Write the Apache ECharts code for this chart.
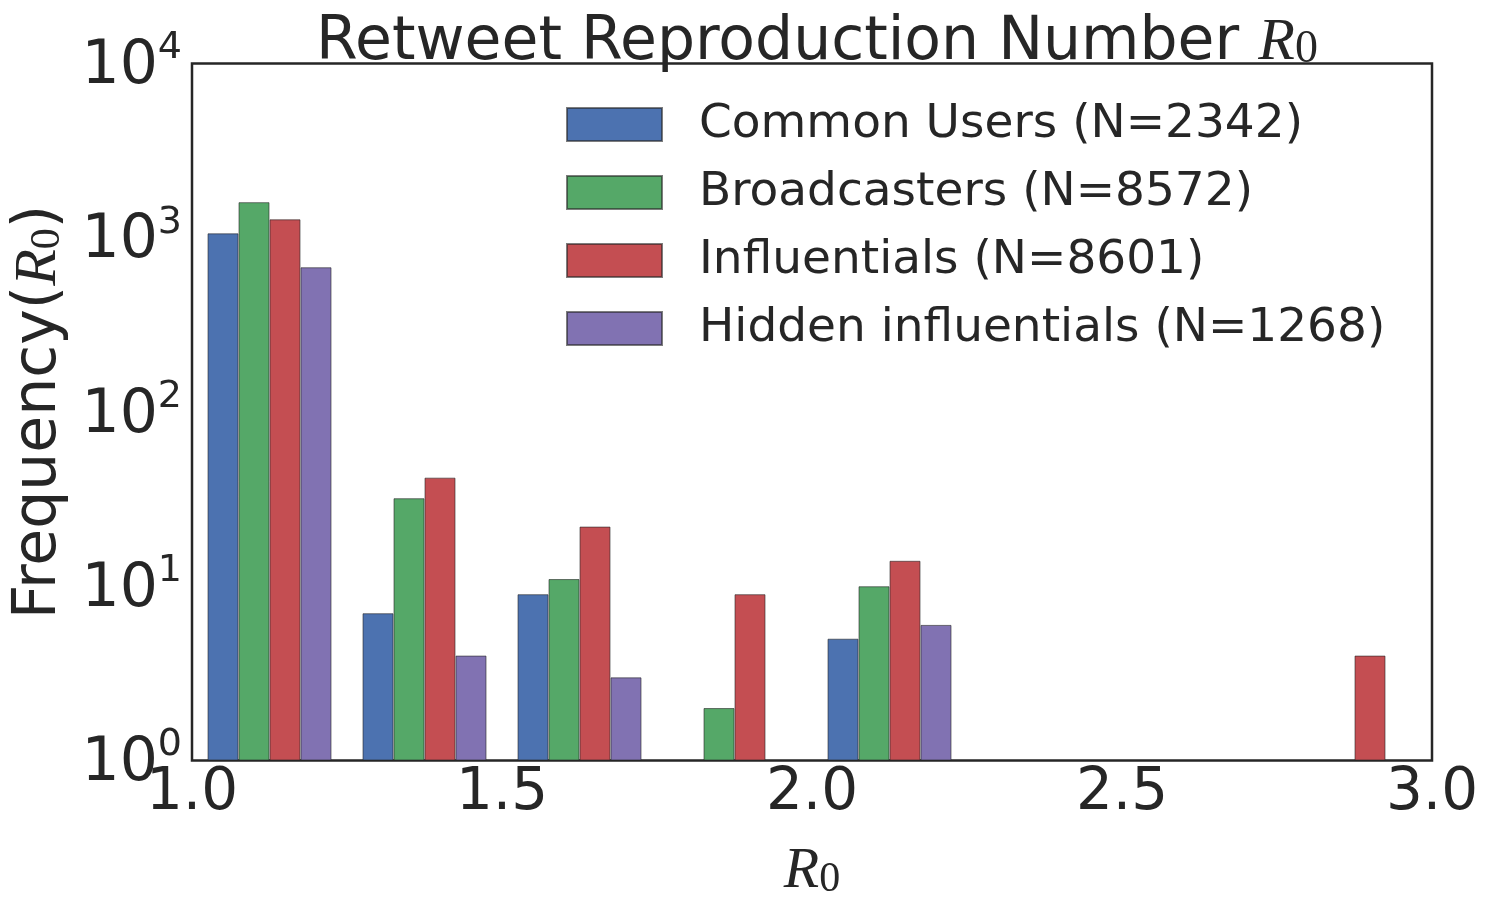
<!DOCTYPE html>
<html>
<head>
<meta charset="utf-8">
<script src="https://cdn.jsdelivr.net/npm/echarts@6/dist/echarts.min.js"></script>
<style>
  html, body { margin: 0; padding: 0; background: #fff; }
  #chart { width: 1488px; height: 902px; }
</style>
</head>
<body>
<div id="chart"></div>
<script>
// histogram bins (R0 ranges) and counts per user group
var bins = ['1.00-1.25', '1.25-1.50', '1.50-1.75', '1.75-2.00', '2.00-2.25', '2.25-2.50', '2.50-2.75', '2.75-3.00'];
var commonUsers = [1060, 7, 9, '-', 5, '-', '-', '-'];
var broadcasters = [1600, 32, 11, 2, 10, '-', '-', '-'];
var influentials = [1276, 42, 22, 9, 14, '-', '-', 4];
var hiddenInfluentials = [677, 4, 3, '-', 6, '-', '-', '-'];
var seriesNames = ['Common Users (N=2342)', 'Broadcasters (N=8572)', 'Influentials (N=8601)', 'Hidden influentials (N=1268)'];
var colors = ['#4c72b0', '#55a868', '#c44e52', '#8172b2'];

var textColor = '#262626';
var sans = 'DejaVu Sans';
var serif = 'Liberation Serif';

var chart = echarts.init(document.getElementById('chart'));

function barSeries(name, data, color) {
  return {
    name: name,
    type: 'bar',
    xAxisIndex: 0,
    data: data,
    barGap: '0%',
    barCategoryGap: '20%',
    itemStyle: {
      color: color,
      borderColor: 'rgba(38,38,38,0.6)',
      borderWidth: 1
    }
  };
}

var option = {
  animation: false,
  color: colors,
  textStyle: { fontFamily: sans, color: textColor },
  title: {
    text: '{a|Retweet Reproduction Number }{r|R}{s|0}',
    left: 812,
    textAlign: 'center',
    top: -8,
    textStyle: {
      fontWeight: 'normal',
      rich: {
        a: { fontFamily: sans, fontWeight: 'normal', fontSize: 60, color: textColor, verticalAlign: 'bottom' },
        r: { fontFamily: serif, fontWeight: 'normal', fontStyle: 'italic', fontSize: 60, color: textColor, verticalAlign: 'bottom' },
        s: { fontFamily: serif, fontWeight: 'normal', fontSize: 46, color: textColor, verticalAlign: 'bottom', padding: [30, 0, 0, 0] }
      }
    }
  },
  legend: {
    orient: 'vertical',
    left: 561,
    top: 96,
    itemWidth: 95,
    itemHeight: 33,
    itemGap: 21,
    icon: 'rect',
    data: seriesNames,
    textStyle: {
      fontFamily: sans,
      fontSize: 47,
      color: textColor,
      padding: [0, 0, 0, 32]
    }
  },
  grid: {
    left: 192,
    right: 56,
    top: 63.5,
    bottom: 141.5,
    containLabel: false,
    outerBoundsMode: 'none',
    show: true,
    borderColor: textColor,
    borderWidth: 2.5,
    backgroundColor: '#fff'
  },
  xAxis: [
    {
      type: 'category',
      data: bins,
      show: false
    },
    {
      type: 'value',
      position: 'bottom',
      min: 1,
      max: 3,
      interval: 0.5,
      axisLine: { show: false },
      axisTick: { show: false },
      splitLine: { show: false },
      axisLabel: {
        fontFamily: sans,
        fontSize: 58,
        color: textColor,
        margin: 4,
        formatter: function (v) { return v.toFixed(1); }
      },
      name: '{r|R}{s|0}',
      nameLocation: 'middle',
      nameGap: 68,
      nameTextStyle: {
        rich: {
          r: { fontFamily: serif, fontStyle: 'italic', fontSize: 58, color: textColor, verticalAlign: 'bottom' },
          s: { fontFamily: serif, fontSize: 42, color: textColor, verticalAlign: 'bottom', padding: [30, 0, 0, 0] }
        }
      }
    }
  ],
  yAxis: {
    type: 'log',
    logBase: 10,
    min: 1,
    max: 10000,
    axisLine: { show: false },
    axisTick: { show: false },
    minorTick: { show: false },
    splitLine: { show: false },
    axisLabel: {
      margin: 10,
      formatter: function (v) {
        return '{b|10}{s|' + Math.round(Math.log10(v)) + '}';
      },
      rich: {
        b: { fontFamily: sans, fontSize: 60, color: textColor, verticalAlign: 'bottom' },
        s: { fontFamily: sans, fontSize: 38, color: textColor, verticalAlign: 'bottom', padding: [0, 0, 30, 0] }
      }
    },
    name: '{a|Frequency(}{r|R}{s|0}{a|)}',
    nameLocation: 'middle',
    nameGap: 123,
    nameTextStyle: {
      rich: {
        a: { fontFamily: sans, fontSize: 60, color: textColor, verticalAlign: 'bottom' },
        r: { fontFamily: serif, fontStyle: 'italic', fontSize: 60, color: textColor, verticalAlign: 'bottom' },
        s: { fontFamily: serif, fontSize: 42, color: textColor, verticalAlign: 'bottom', padding: [27, 0, 0, 0] }
      }
    }
  },
  series: [
    barSeries(seriesNames[0], commonUsers, colors[0]),
    barSeries(seriesNames[1], broadcasters, colors[1]),
    barSeries(seriesNames[2], influentials, colors[2]),
    barSeries(seriesNames[3], hiddenInfluentials, colors[3])
  ]
};

chart.setOption(option);
</script>
</body>
</html>
